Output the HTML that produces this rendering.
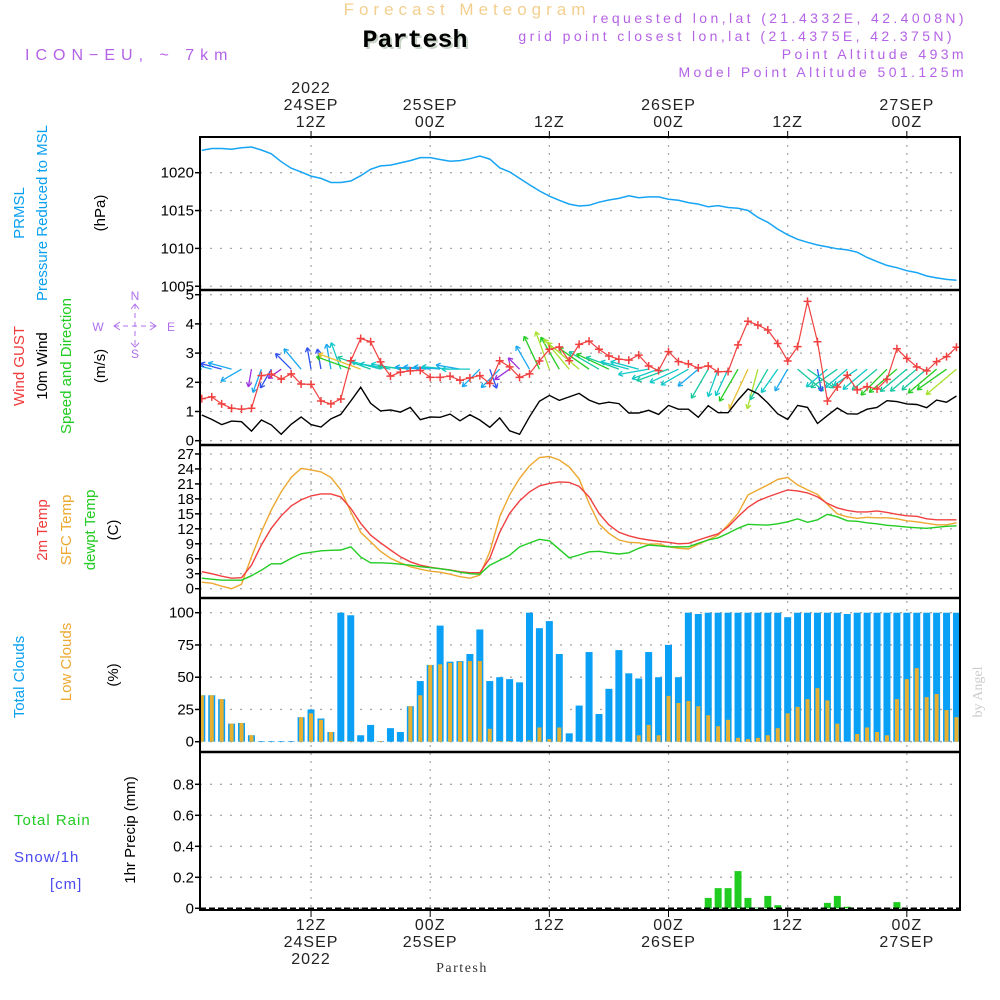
<!DOCTYPE html>
<html><head><meta charset="utf-8">
<style>
html,body{margin:0;padding:0;background:#fff;}
svg{display:block;font-family:"Liberation Sans",sans-serif;}
</style></head>
<body>
<svg id="chart" xmlns="http://www.w3.org/2000/svg" width="1000" height="1000" viewBox="0 0 1000 1000">
<rect x="0" y="0" width="1000" height="1000" fill="#fff"/>
<text x="467" y="15" text-anchor="middle" font-size="17" fill="#F3CF8E" letter-spacing="5">Forecast Meteogram</text>
<text x="417" y="49" text-anchor="middle" font-size="25" font-weight="bold" fill="#c8d4c8" font-family="Liberation Mono, monospace">Partesh</text>
<text x="415" y="47" text-anchor="middle" font-size="25" font-weight="bold" fill="#000" font-family="Liberation Mono, monospace">Partesh</text>
<text x="25" y="60" font-size="16" fill="#B462E6" letter-spacing="6">ICON−EU, ~ 7km</text>
<g font-size="14" fill="#B462E6" text-anchor="end" letter-spacing="3.4">
<text x="967" y="23">requested lon,lat (21.4332E, 42.4008N)</text>
<text x="955" y="41">grid point closest lon,lat (21.4375E, 42.375N)</text>
<text x="967" y="59">Point Altitude 493m</text>
<text x="967" y="77">Model Point Altitude 501.125m</text>
</g>
<g id="grid"></g>
<g id="marks"></g>
<g id="frame"></g>
<g id="labels"></g>
<g font-size="15">
<text transform="translate(24,213) rotate(-90)" text-anchor="middle" fill="#0aa0f0">PRMSL</text>
<text transform="translate(47,213) rotate(-90)" text-anchor="middle" fill="#0aa0f0">Pressure Reduced to MSL</text>
<text transform="translate(105,213) rotate(-90)" text-anchor="middle" fill="#000">(hPa)</text>
<text transform="translate(24,366) rotate(-90)" text-anchor="middle" fill="#f03c3c">Wind GUST</text>
<text transform="translate(47,366) rotate(-90)" text-anchor="middle" fill="#000">10m Wind</text>
<text transform="translate(71,366) rotate(-90)" text-anchor="middle" fill="#22cc22">Speed and Direction</text>
<text transform="translate(105,366) rotate(-90)" text-anchor="middle" fill="#000">(m/s)</text>
<text transform="translate(47,530) rotate(-90)" text-anchor="middle" fill="#f03c3c">2m Temp</text>
<text transform="translate(71,530) rotate(-90)" text-anchor="middle" fill="#EDA830">SFC Temp</text>
<text transform="translate(95,530) rotate(-90)" text-anchor="middle" fill="#22cc22">dewpt Temp</text>
<text transform="translate(118,530) rotate(-90)" text-anchor="middle" fill="#000">(C)</text>
<text transform="translate(24,677) rotate(-90)" text-anchor="middle" fill="#0aa0f0">Total Clouds</text>
<text transform="translate(71,662) rotate(-90)" text-anchor="middle" fill="#EDA830">Low Clouds</text>
<text transform="translate(118,675) rotate(-90)" text-anchor="middle" fill="#000">(%)</text>
<text transform="translate(135,830) rotate(-90)" text-anchor="middle" fill="#000">1hr Precip (mm)</text>
<text x="14" y="825" fill="#22cc22" letter-spacing="1">Total  Rain</text>
<text x="14" y="862" fill="#4a4af0" letter-spacing="1">Snow/1h</text>
<text x="50" y="889" fill="#4a4af0" letter-spacing="1">[cm]</text>
</g>
<g fill="#b070ee" font-size="12" text-anchor="middle">
<text x="135" y="300">N</text><text x="135" y="358">S</text>
<text x="98" y="331">W</text><text x="171" y="331">E</text>
<line x1="135" y1="304" x2="135" y2="347" stroke="#b070ee" stroke-dasharray="5,4"/>
<line x1="114" y1="326" x2="156" y2="326" stroke="#b070ee" stroke-dasharray="5,4"/>
<path d="M120,322 L114,326 L120,330 M150,322 L156,326 L150,330 M131,309 L135,304 L139,309 M131,343 L135,347 L139,343" stroke="#b070ee" fill="none"/>
</g>
<text transform="translate(982,692) rotate(-90)" text-anchor="middle" font-size="14" fill="#ccc" font-family="Liberation Serif, serif">by Angel</text>
<text x="462" y="972" text-anchor="middle" font-size="14" fill="#333" font-family="Liberation Serif, serif" letter-spacing="1.5">Partesh</text>
</svg>
<script>
// hourly data, 01Z 24SEP .. 05Z 27SEP (77 points)
const pressure=[1022.95,1023.2,1023.2,1023.1,1023.3,1023.4,1023.0,1022.5,1021.45,1020.6,1020.1,1019.55,1019.25,1018.7,1018.7,1018.9,1019.6,1020.45,1020.9,1021.0,1021.3,1021.6,1022.0,1022.0,1021.75,1021.5,1021.6,1021.85,1022.2,1021.8,1020.65,1020.1,1019.25,1018.4,1017.6,1016.9,1016.35,1015.85,1015.6,1015.7,1016.1,1016.4,1016.6,1016.95,1016.7,1016.8,1016.8,1016.5,1016.35,1016.05,1015.85,1015.5,1015.65,1015.4,1015.3,1015.0,1014.1,1013.45,1012.55,1011.8,1011.2,1010.8,1010.45,1010.2,1009.95,1009.8,1009.5,1008.8,1008.25,1007.75,1007.45,1007.05,1006.8,1006.35,1006.1,1005.9,1005.8];
const wind10m=[0.88,0.73,0.55,0.67,0.65,0.33,0.71,0.54,0.22,0.56,0.81,0.55,0.47,0.75,0.9,1.36,1.83,1.28,1.02,1.05,0.98,1.14,0.72,0.81,0.8,0.91,0.68,0.89,0.71,0.46,0.78,0.34,0.22,0.82,1.35,1.55,1.38,1.5,1.62,1.39,1.26,1.32,1.27,0.95,0.95,1.04,0.9,1.21,1.08,1.08,0.8,1.2,0.96,0.96,1.39,1.77,1.61,1.29,0.92,0.73,1.21,1.14,0.59,0.86,1.12,0.92,0.91,1.08,1.14,1.37,1.34,1.26,1.24,1.13,1.39,1.32,1.53];
const windGust=[1.44,1.5,1.26,1.11,1.08,1.11,2.23,2.28,2.11,2.29,1.94,1.93,1.36,1.26,1.43,2.74,3.5,3.39,2.7,2.21,2.35,2.39,2.41,2.17,2.17,2.21,2.07,2.15,2.23,1.96,2.74,2.53,2.17,2.29,2.73,3.13,3.21,2.74,3.3,3.41,3.13,2.9,2.79,2.76,2.93,2.56,2.4,3.05,2.71,2.63,2.49,2.56,2.36,2.37,3.28,4.09,3.96,3.79,3.33,2.73,3.22,4.77,3.39,1.36,1.84,2.24,1.74,1.85,1.77,2.1,3.15,2.82,2.53,2.39,2.71,2.88,3.2];
const windDir=[195,195,195,195,150,100,110,120,145,225,230,260,260,260,250,200,200,200,195,190,190,185,185,185,185,185,190,180,135,70,135,145,225,240,245,250,240,230,220,215,210,205,200,195,195,170,160,160,155,150,140,120,110,115,120,115,105,120,125,120,40,35,80,140,145,140,145,140,140,135,140,140,140,140,140,145,140];
const temp2m=[3.4,3.0,2.5,2.1,2.2,4.7,8.75,12.1,14.6,16.6,17.8,18.6,19.0,19.0,18.4,16.1,13.1,10.75,9.2,7.75,6.4,5.4,4.7,4.3,4.0,3.75,3.4,3.2,3.2,6.1,11.3,15.1,17.6,19.4,20.6,21.1,21.4,21.3,20.5,18.4,15.1,12.8,11.3,10.6,10.1,9.75,9.5,9.3,9.0,9.1,9.75,10.4,11.0,12.4,14.4,16.3,17.6,18.4,19.1,19.8,19.6,19.2,18.4,17.1,16.2,15.7,15.4,15.4,15.6,15.3,14.9,14.6,14.5,14.0,13.8,13.8,13.8];
const tempSfc=[1.3,1.1,0.5,0.0,0.9,6.4,11.4,15.8,19.4,22.3,24.1,23.8,23.4,22.3,19.8,15.4,11.3,9.4,7.5,6.1,5.2,4.4,3.9,3.5,3.3,2.9,2.4,2.1,2.7,7.4,14.4,18.8,22.1,24.6,26.3,26.5,25.8,24.4,22.0,17.1,13.0,11.1,9.75,9.3,9.2,8.9,9.0,8.4,8.1,7.95,8.9,9.8,10.75,12.8,15.1,18.8,19.8,20.8,21.9,22.3,20.8,19.8,18.9,16.9,15.0,14.4,14.1,14.3,14.2,14.2,14.0,13.6,13.4,13.1,12.8,12.8,13.2];
const tempDew=[2.1,1.9,1.7,1.7,1.7,2.6,3.7,5.0,5.0,6.1,7.0,7.3,7.6,7.7,7.75,8.4,6.35,5.2,5.2,5.1,4.9,4.7,4.4,4.2,4.0,3.7,3.3,3.0,2.9,4.7,5.7,6.7,8.4,9.15,9.9,9.6,7.9,6.2,6.75,7.4,7.5,7.2,6.95,7.2,8.1,8.75,8.6,8.4,8.4,8.4,9.1,9.75,10.2,11.1,12.1,12.9,12.8,12.75,13.0,13.4,14.0,13.3,13.8,14.9,14.4,13.6,13.5,13.2,13.0,12.7,12.55,12.35,12.2,12.1,12.3,12.5,12.6];
const totalClouds=[36,36,33,14,14.5,5,0.5,0.5,0.5,0.5,19,25,18,7.5,100,98,5,13,0.5,10.5,7.5,27.5,47,59.5,90,62,62.5,68,87,47,50,48.5,46,100,88,93.5,68,6.5,28,69.5,21.5,41,71,53,49,69.5,50,75,50,100,99,100,100,100,100,100,100,100,100,96.5,100,100,100,100,100,99,100,100,100,100,100,100,100,100,100,100,100];
const lowClouds=[36,36,33,14,14.5,5,0,0,0,0,19,22,17,7.5,0.5,0.5,0,0,0.5,0,0,27.5,36,59.5,60,61,62,62.5,62.5,10,0.5,0.5,0,1,11,2,11,0,0,0,0,0,0,0,5,13,5,35.5,30,31.5,27.5,20.5,12,17,3,2,3,5,10.5,22,27,33,41.5,32,14,0,6,11,7.5,5,33,48.5,57,34.5,37,24.5,19];
const precip=[0,0,0,0,0,0,0,0,0,0,0,0,0,0,0,0,0,0,0,0,0,0,0,0,0,0,0,0,0,0,0,0,0,0,0,0,0,0,0,0,0,0,0,0,0,0,0,0,0,0,0,0.067,0.13,0.13,0.24,0.067,0.005,0.08,0.02,0,0,0,0,0.035,0.08,0.01,0,0,0,0,0.04,0,0,0,0,0,0];
const pressureTicks=[1005,1010,1015,1020];
const windTicks=[0,1,2,3,4,5];
const tempTicks=[0,3,6,9,12,15,18,21,24,27];
const cloudTicks=[0,25,50,75,100];
const precipTicks=[0,0.2,0.4,0.6,0.8];
const timeGridIdx=[11,23,35,47,59,71];
const timeLabelsTop=[["2022","24SEP","12Z"],["","25SEP","00Z"],["","","12Z"],["","26SEP","00Z"],["","","12Z"],["","27SEP","00Z"]];
const timeLabelsBottom=[["12Z","24SEP","2022"],["00Z","25SEP",""],["12Z","",""],["00Z","26SEP",""],["12Z","",""],["00Z","27SEP",""]];

const NS="http://www.w3.org/2000/svg";
const L=200,R=960;
function xAt(i){return 201.8+9.93*i;}
function yP(v){return 172.7-(v-1020)*7.57;}
function yW(v){return 440.7-v*29.2;}
function yT(v){return 588.7-v*4.99;}
function yC(v){return 741.7-v*1.29;}
function yR(v){return 908.3-v*155;}
function mk(tag,attrs,parent){const e=document.createElementNS(NS,tag);for(const k in attrs)e.setAttribute(k,attrs[k]);parent.appendChild(e);return e;}
const grid=document.getElementById('grid'),marks=document.getElementById('marks'),frame=document.getElementById('frame'),labels=document.getElementById('labels');
const clip=mk('clipPath',{id:'plotclip'},document.getElementById('chart'));
mk('rect',{x:L,y:137,width:R-L,height:773},clip);
marks.setAttribute('clip-path','url(#plotclip)');

const panels=[
 {name:'pressure',top:137,bot:290,ticks:pressureTicks,fy:yP},
 {name:'wind',top:290,bot:445,ticks:windTicks,fy:yW},
 {name:'temp',top:445,bot:598,ticks:tempTicks,fy:yT},
 {name:'cloud',top:598,bot:752,ticks:cloudTicks,fy:yC},
 {name:'precip',top:752,bot:910,ticks:precipTicks,fy:yR}];
panels.forEach(p=>{
 p.ticks.forEach(v=>{
  const y=p.fy(v);
  const g=mk('line',{x1:L,x2:R,y1:y,y2:y,stroke:'#aaa','stroke-dasharray':'2,8','stroke-width':1.3},grid);
  
  
  mk('line',{x1:L-5,x2:L,y1:y,y2:y,stroke:'#000','stroke-width':1.5},frame);
  const t=mk('text',{x:L-6,y:y+5,'text-anchor':'end','font-size':15,fill:'#000'},labels);
  
  
  t.textContent=String(v);
 });
});
timeGridIdx.forEach((idx,j)=>{
 const x=xAt(idx);
 const g=mk('line',{x1:x,x2:x,y1:137,y2:910,stroke:'#aaa','stroke-dasharray':'2,6','stroke-width':1.3},grid);
 
 
 mk('line',{x1:x,x2:x,y1:131,y2:137,stroke:'#000'},frame);
 mk('line',{x1:x,x2:x,y1:910,y2:917,stroke:'#000'},frame);
 timeLabelsTop[j].forEach((s,k)=>{if(!s)return;
  const t=mk('text',{x:x,y:93+k*17,'text-anchor':'middle','font-size':16,fill:'#222','letter-spacing':1},labels);
  
  
  t.textContent=s;});
 timeLabelsBottom[j].forEach((s,k)=>{if(!s)return;
  const t=mk('text',{x:x,y:930+k*17,'text-anchor':'middle','font-size':16,fill:'#222','letter-spacing':1},labels);
  
  
  t.textContent=s;});
});
const fr=mk('rect',{x:L,y:137,width:R-L,height:773,fill:'none',stroke:'#000','stroke-width':2},frame);


[290,445,598,752].forEach(y=>{const s=mk('line',{x1:L,x2:R,y1:y,y2:y,stroke:'#000','stroke-width':2.5},frame);
 
 });

function line(arr,fy,color,name,w){
 const d=arr.map((v,i)=>(i?'L':'M')+xAt(i).toFixed(1)+','+fy(v).toFixed(1)).join('');
 const p=mk('path',{d:d,fill:'none',stroke:color,'stroke-width':w||1.4},marks);
 
 
}
line(pressure,yP,'#16a4f4','pressure-line',1.5);
totalClouds.forEach((v,i)=>{const r=mk('rect',{x:xAt(i)-3.5,y:yC(v),width:7,height:yC(0)-yC(v),fill:'#0aa0f5'},marks);
 
 });
lowClouds.forEach((v,i)=>{const r=mk('rect',{x:xAt(i)-2,y:yC(v),width:4,height:yC(0)-yC(v),fill:'#E8B030'},marks);
 
 });
precip.forEach((v,i)=>{if(v<=0)return;const r=mk('rect',{x:xAt(i)-3.5,y:yR(v),width:7,height:yR(0)-yR(v),fill:'#20cc20'},marks);
 
 });
const bl=mk('line',{x1:L,x2:R,y1:yR(0),y2:yR(0),stroke:'#000','stroke-dasharray':'6,3','stroke-width':1.5},marks);


line(tempSfc,yT,'#EDA830','sfc-temp-line');
line(temp2m,yT,'#f04040','temp-2m-line');
line(tempDew,yT,'#22cc22','dewpoint-line');
function spdColor(s){if(s<0.4)return '#9a30e0';if(s<0.6)return '#3050f0';if(s<0.85)return '#18a8f0';if(s<1.1)return '#10c8c8';if(s<1.3)return '#18c8a0';if(s<1.45)return '#22cc22';if(s<1.65)return '#a8e030';return '#e8c030';}
windDir.forEach((a,i)=>{
 const s=wind10m[i],len=12+18*s,rad=a*Math.PI/180;
 const x0=xAt(i),y0=yW(2.45);
 const x1=x0+Math.cos(rad)*len,y1=y0+Math.sin(rad)*len;
 const c=spdColor(s);
 const g=mk('g',{stroke:c,'stroke-width':1.3,fill:'none'},marks);
 
 
 mk('line',{x1:x0,y1:y0,x2:x1,y2:y1},g);
 const h=5;
 [rad+2.6,rad-2.6].forEach(b=>mk('line',{x1:x1,y1:y1,x2:x1+Math.cos(b)*h,y2:y1+Math.sin(b)*h},g));
});
line(wind10m,yW,'#000','wind-10m-line',1.4);
line(windGust,yW,'#f04040','wind-gust-line',1.2);
windGust.forEach((v,i)=>{const x=xAt(i),y=yW(v);
 const p=mk('path',{d:`M${x-4},${y}H${x+4}M${x},${y-4}V${y+4}`,stroke:'#f04040','stroke-width':1.5},marks);
 
 });
</script>
</body></html>
